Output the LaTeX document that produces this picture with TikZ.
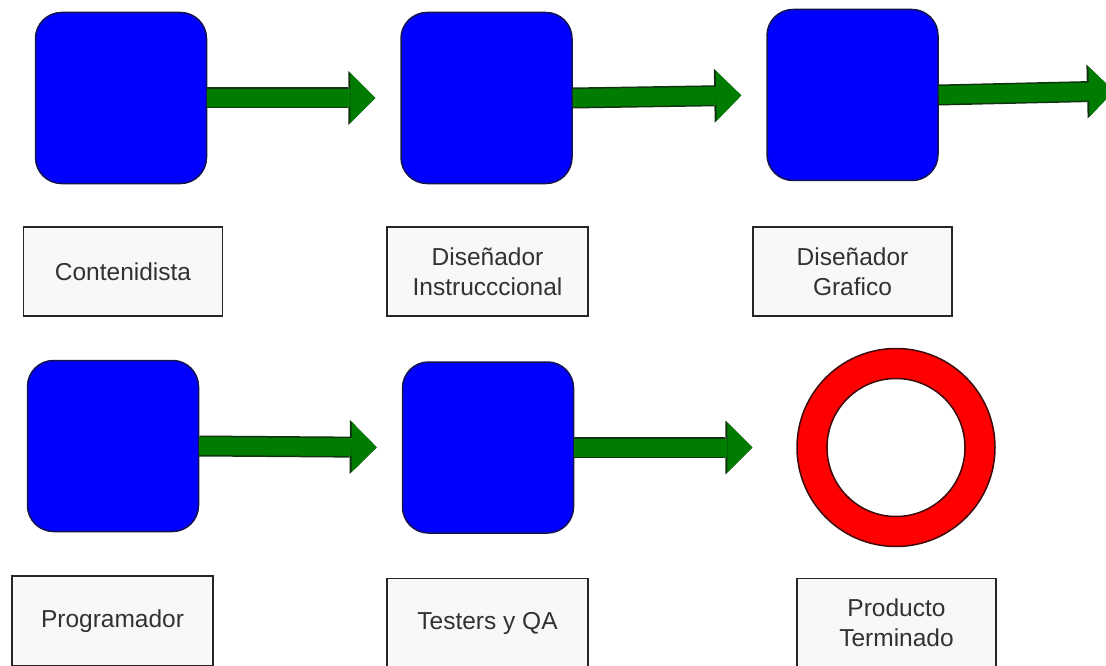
\documentclass[tikz,border=0pt]{standalone}
\usepackage{fontspec}
\setmainfont{Liberation Sans}
\usepackage{xcolor}
\usetikzlibrary{arrows.meta}

\definecolor{roleblue}{RGB}{0,0,255}
\definecolor{roleedge}{RGB}{20,20,80}
\definecolor{flowgreen}{RGB}{0,125,0}
\definecolor{flowedge}{RGB}{15,50,15}
\definecolor{ringred}{RGB}{255,0,0}
\definecolor{ringedge}{RGB}{60,10,10}
\definecolor{tagfill}{RGB}{248,248,248}
\definecolor{tagtext}{RGB}{50,50,50}

\tikzset{
  rolebox/.style={draw=roleedge, line width=1.5pt, fill=roleblue, rounded corners=26pt,
    minimum width=171pt, minimum height=171pt},
  tag/.style={draw=black!85, line width=1.6pt, fill=tagfill, text=tagtext, align=center,
    font=\fontsize{24.5}{30}\selectfont, minimum width=199pt, minimum height=89pt, inner sep=0pt},
  flow/.style={draw=flowgreen, line width=18pt, shorten >=#1,
    -{Triangle[width=50pt,length=25pt,line width=0pt]},
    preaction={draw=flowedge, line width=21pt, shorten >=#1,
      -{Triangle[width=54pt,length=27pt,line width=0pt]}}},
  flow/.default=25pt
}

\begin{document}
\begin{tikzpicture}[x=1pt,y=-1pt]
\useasboundingbox (0,0) rectangle (1106,666);
\foreach \n/\x/\y in {b1/121/98, b2/486.5/98, b3/852.5/95, b4/113/446, b5/488/447.5}
  {\node[rolebox] (\n) at (\x,\y) {};}
\node[circle, draw=ringedge, line width=1.5pt, fill=ringred, minimum size=198pt] (ring) at (896,447.5) {};
\node[circle, draw=ringedge, line width=1.5pt, fill=white, minimum size=138pt] (hole) at (ring.center) {};
\coordinate (off) at (1114,91);

\node[tag] (cont) at (123,271.5) {Contenidista};
\node[tag, minimum width=201pt] (disins) at (487.5,271.5) {Diseñador\\Instrucccional};
\node[tag] (disgra) at (852.5,271.5) {Diseñador\\Grafico};
\node[tag, minimum width=201pt, minimum height=90pt] (prog) at (112.5,621) {Programador};
\node[tag, minimum width=201pt] (test) at (487.5,623) {Testers y QA};
\node[tag] (prod) at (896.5,623) {Producto\\Terminado};

\draw[flow] (b1.east) -- (b2.west);
\draw[flow] (b2.east) -- (b3.west);
\draw[flow=0pt] (b3.east) -- (off);
\draw[flow] (b4.east) -- (b5.west);
\draw[flow=44pt] (b5.east) -- (ring.west);
\end{tikzpicture}
\end{document}
